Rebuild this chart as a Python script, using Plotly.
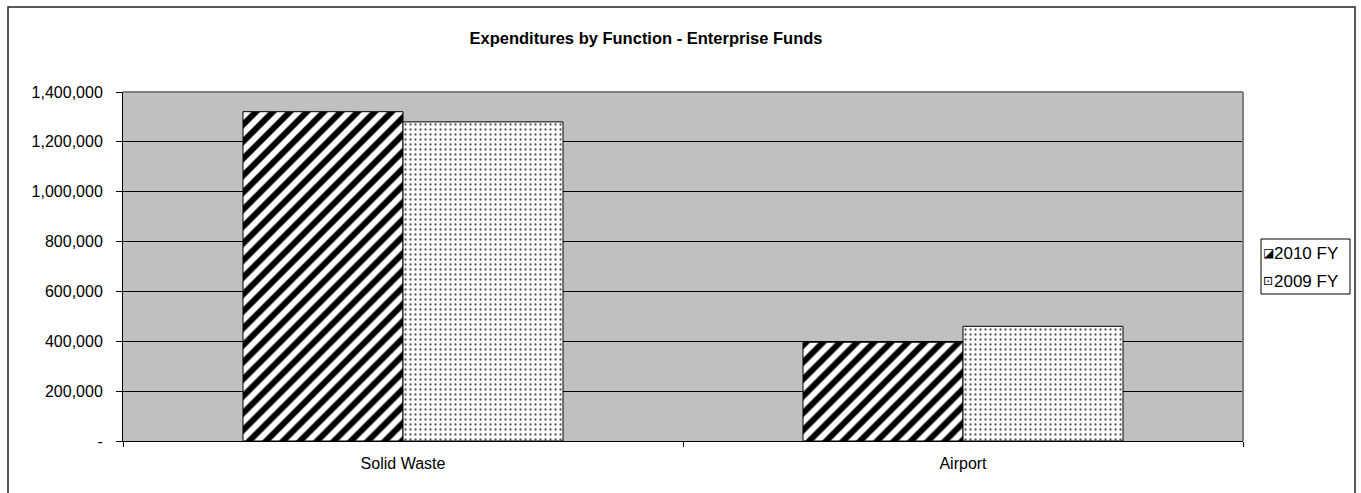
import plotly.graph_objects as go

# Enterprise fund expenditures by function
categories = ["Solid Waste", "Airport"]
fy2010 = [1321000, 396000]
fy2009 = [1280000, 460000]
series_names = ["2010 FY", "2009 FY"]
legend_icons = ["◪", "⊡"]

y_tickvals = [0, 200000, 400000, 600000, 800000, 1000000, 1200000, 1400000]
y_ticktext = ["-", "200,000", "400,000", "600,000", "800,000", "1,000,000", "1,200,000", "1,400,000"]

FONT = "Liberation Sans, Arial, sans-serif"

# plot-area pixel frame, used to place the frame and legend box
L, R, T, B = 123, 1243, 92, 441


def px(x):
    return (x - L) / (R - L)


def py(y):
    return (B - y) / (B - T)


fig = go.Figure()
fig.add_trace(go.Bar(
    name=series_names[0], x=categories, y=fy2010,
    marker=dict(
        color="white",
        line=dict(color="black", width=1),
        pattern=dict(shape="/", fgcolor="black", bgcolor="white", fgopacity=1,
                     size=12, solidity=0.5),
    ),
))
fig.add_trace(go.Bar(
    name=series_names[1], x=categories, y=fy2009,
    marker=dict(
        color="white",
        line=dict(color="black", width=1),
        pattern=dict(shape=".", fgcolor="#555555", bgcolor="white", fgopacity=1,
                     size=5, solidity=0.16),
    ),
))

fig.update_layout(
    width=1361, height=493,
    margin=dict(l=L, r=1361 - R, t=T, b=493 - B),
    paper_bgcolor="white",
    plot_bgcolor="#C0C0C0",
    barmode="group",
    bargap=0.4286,
    bargroupgap=0,
    font=dict(family=FONT, size=16, color="black"),
    title=dict(
        text="<b>Expenditures by Function - Enterprise Funds</b>",
        x=646 / 1361, xanchor="center", xref="container",
        y=1 - 38 / 493, yanchor="middle", yref="container",
        font=dict(family=FONT, size=16.5, color="black"),
    ),
    showlegend=False,
)

fig.update_xaxes(
    showgrid=False, showline=True, linecolor="black", linewidth=1,
    ticks="outside", tickson="boundaries", ticklen=5, tickcolor="black",
    ticklabelstandoff=8,
    tickfont=dict(family=FONT, size=16),
)
fig.update_yaxes(
    range=[0, 1400000], tickvals=y_tickvals, ticktext=y_ticktext,
    showgrid=True, gridcolor="black", gridwidth=1,
    showline=True, linecolor="black", linewidth=1,
    ticks="outside", ticklen=6, tickcolor="black",
    ticklabelstandoff=10,
    tickfont=dict(family=FONT, size=16),
    zeroline=False,
)

# gray frame on the top and right of the plot area
fig.add_shape(type="line", xref="paper", yref="paper", x0=0, x1=1, y0=1, y1=1,
              line=dict(color="#808080", width=2), layer="above")
fig.add_shape(type="line", xref="paper", yref="paper", x0=1, x1=1, y0=0, y1=1,
              line=dict(color="#808080", width=2), layer="above")

# outer chart border (bottom edge runs past the page)
fig.add_shape(type="rect", xref="paper", yref="paper",
              x0=px(8), x1=px(1355), y0=py(560), y1=py(7),
              line=dict(color="#222222", width=1.5), fillcolor="rgba(0,0,0,0)", layer="above")

# legend box with series icons and names
fig.add_shape(type="rect", xref="paper", yref="paper",
              x0=px(1261), x1=px(1350), y0=py(294), y1=py(239),
              line=dict(color="black", width=1), fillcolor="white", layer="above")
for i, (icon, name) in enumerate(zip(legend_icons, series_names)):
    yc = 253 + 28 * i
    fig.add_annotation(xref="paper", yref="paper", x=px(1268), y=py(yc),
                       text=icon, showarrow=False, xanchor="center", yanchor="middle",
                       font=dict(family="DejaVu Sans", size=12, color="black"))
    fig.add_annotation(xref="paper", yref="paper", x=px(1272), y=py(yc),
                       text=name, showarrow=False, xanchor="left", yanchor="middle",
                       font=dict(family=FONT, size=17, color="black"))

fig.write_html("out.html")
